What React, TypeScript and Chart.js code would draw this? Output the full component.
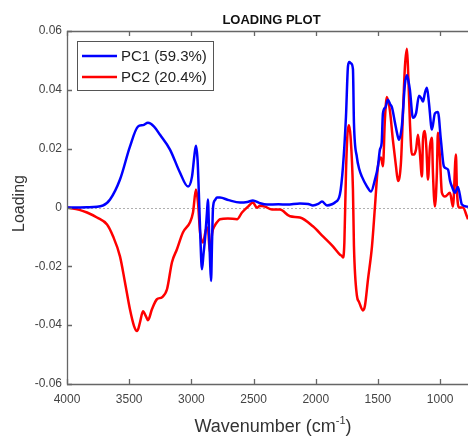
import React, { useEffect, useRef } from 'react';
import { Chart, registerables } from 'chart.js';

Chart.register(...registerables);

const titleText = 'LOADING PLOT';
const xTitle = 'Wavenumber (cm';
const xTitleSup = '-1';
const yTitle = 'Loading';
const seriesNames = ['PC1 (59.3%)', 'PC2 (20.4%)'];
const xTickValues = [4000, 3500, 3000, 2500, 2000, 1500, 1000];
const yTickValues = [-0.06, -0.04, -0.02, 0, 0.02, 0.04, 0.06];

const pc1Wn = [4000, 3840, 3711, 3654, 3574, 3494, 3430, 3389, 3349, 3300, 3252, 3172, 3092, 3027, 2995, 2975, 2963, 2950, 2940, 2928, 2915, 2903, 2891, 2875, 2867, 2858, 2850, 2842, 2834, 2826, 2810, 2794, 2770, 2700, 2609, 2550, 2505, 2450, 2392, 2300, 2231, 2127, 2060, 2023, 1980, 1950, 1910, 1870, 1846, 1806, 1781, 1757, 1741, 1730, 1717, 1701, 1693, 1669, 1650, 1629, 1588, 1556, 1524, 1500, 1484, 1470, 1460, 1440, 1420, 1400, 1387, 1363, 1345, 1331, 1307, 1283, 1267, 1255, 1243, 1219, 1194, 1170, 1150, 1138, 1122, 1106, 1090, 1066, 1042, 1018, 994, 970, 937, 920, 905, 881, 857, 825, 785, 776];
const pc1Val = [0, 0.0001, 0.0007, 0.0027, 0.0095, 0.0207, 0.0275, 0.028, 0.0288, 0.0275, 0.0247, 0.0197, 0.0119, 0.0071, 0.0105, 0.018, 0.021, 0.016, 0.005, -0.01, -0.021, -0.016, -0.011, -0.002, 0.0027, -0.008, -0.018, -0.025, -0.012, 0, 0.0025, 0.0034, 0.0034, 0.0025, 0.0017, 0.0019, 0.0024, 0.0015, 0.001, 0.0011, 0.001, 0.0014, 0.0012, 0.0007, 0.0012, 0.002, 0.0007, 0.0011, 0.0017, 0.0044, 0.014, 0.031, 0.048, 0.0495, 0.049, 0.047, 0.0288, 0.017, 0.013, 0.0105, 0.0071, 0.0054, 0.0095, 0.014, 0.0197, 0.022, 0.032, 0.034, 0.0366, 0.035, 0.034, 0.0288, 0.025, 0.023, 0.028, 0.042, 0.045, 0.043, 0.04, 0.0305, 0.032, 0.038, 0.037, 0.036, 0.039, 0.0407, 0.0356, 0.0265, 0.032, 0.0325, 0.023, 0.014, 0.0129, 0.009, 0.0071, 0.005, 0.007, 0.001, 0.0003, 0.0002];

const pc2Wn = [4000, 3900, 3839, 3759, 3678, 3630, 3574, 3534, 3494, 3461, 3437, 3425, 3413, 3389, 3365, 3349, 3317, 3277, 3236, 3196, 3156, 3116, 3068, 3011, 2987, 2963, 2947, 2930, 2907, 2883, 2867, 2858, 2850, 2842, 2834, 2810, 2794, 2770, 2706, 2633, 2593, 2545, 2505, 2473, 2449, 2408, 2352, 2288, 2207, 2127, 2023, 1942, 1862, 1806, 1790, 1781, 1770, 1757, 1745, 1733, 1720, 1701, 1693, 1669, 1653, 1621, 1605, 1580, 1548, 1524, 1500, 1476, 1460, 1444, 1428, 1404, 1380, 1355, 1339, 1315, 1299, 1283, 1267, 1259, 1243, 1227, 1210, 1194, 1178, 1165, 1146, 1138, 1122, 1110, 1098, 1082, 1066, 1058, 1042, 1026, 1018, 1002, 986, 961, 921, 897, 873, 865, 849, 817, 785, 776];
const pc2Val = [0, -0.0008, -0.0017, -0.0034, -0.0058, -0.0098, -0.0166, -0.0254, -0.0346, -0.0403, -0.042, -0.041, -0.039, -0.0353, -0.037, -0.0383, -0.0346, -0.0312, -0.0305, -0.0278, -0.0186, -0.0142, -0.0085, -0.005, -0.0017, 0.0061, 0.0017, -0.0085, -0.0119, -0.0075, -0.0068, -0.012, -0.0153, -0.013, -0.009, -0.006, -0.005, -0.004, -0.0037, -0.004, -0.0017, 0.0003, 0.0017, -0.0001, 0.0006, 0.0003, -0.0007, -0.0007, -0.003, -0.0034, -0.0064, -0.0098, -0.0132, -0.016, -0.0165, -0.017, -0.012, 0.0119, 0.025, 0.028, 0.024, 0.006, -0.013, -0.03, -0.032, -0.035, -0.0335, -0.0244, -0.0132, 0.0003, 0.014, 0.017, 0.014, 0.03, 0.0376, 0.033, 0.023, 0.014, 0.009, 0.0153, 0.032, 0.048, 0.054, 0.048, 0.029, 0.018, 0.018, 0.0197, 0.0247, 0.0197, 0.0105, 0.023, 0.026, 0.0197, 0.0095, 0.0207, 0.0237, 0.0119, 0.0003, 0.012, 0.0254, 0.0173, 0.005, 0.0037, 0.005, 0.0003, 0.018, 0.006, 0, 0, -0.003, -0.004];

const seriesColors = ['#0000ff', '#ff0000'];
const FONT = "'Liberation Sans', Arial, sans-serif";

const decorPlugin = {
  id: 'decor',
  beforeDatasetsDraw(chart: any) {
    const { ctx, chartArea, scales } = chart;
    const y0 = scales.y.getPixelForValue(0);
    ctx.save();
    ctx.strokeStyle = '#b0b0b0';
    ctx.lineWidth = 1;
    ctx.setLineDash([2, 2]);
    ctx.beginPath();
    ctx.moveTo(chartArea.left, Math.round(y0) + 0.5);
    ctx.lineTo(chartArea.right, Math.round(y0) + 0.5);
    ctx.stroke();
    ctx.restore();
  },
  afterDraw(chart: any) {
    const { ctx, chartArea, scales } = chart;
    const { left, right, top, bottom } = chartArea;
    ctx.save();
    ctx.strokeStyle = '#666';
    ctx.lineWidth = 1.3;
    ctx.beginPath();
    ctx.moveTo(right, top + 0.5);
    ctx.lineTo(left + 0.5, top + 0.5);
    ctx.lineTo(left + 0.5, bottom + 0.5);
    ctx.lineTo(right, bottom + 0.5);
    ctx.stroke();
    ctx.beginPath();
    xTickValues.forEach((v) => {
      const px = Math.round(scales.x.getPixelForValue(v)) + 0.5;
      ctx.moveTo(px, bottom);
      ctx.lineTo(px, bottom - 5);
      ctx.moveTo(px, top);
      ctx.lineTo(px, top + 5);
    });
    yTickValues.forEach((v) => {
      const py = Math.round(scales.y.getPixelForValue(v)) + 0.5;
      ctx.moveTo(left, py);
      ctx.lineTo(left + 5, py);
    });
    ctx.stroke();

    ctx.fillStyle = '#111';
    ctx.font = `bold 13px ${FONT}`;
    ctx.textAlign = 'center';
    ctx.textBaseline = 'middle';
    ctx.fillText(titleText, (left + right) / 2 + 4, 20);

    ctx.save();
    ctx.translate(20, (top + bottom) / 2 - 4);
    ctx.rotate(-Math.PI / 2);
    ctx.font = `16px ${FONT}`;
    ctx.fillStyle = '#333';
    ctx.textAlign = 'center';
    ctx.textBaseline = 'middle';
    ctx.fillText(yTitle, 0, 0);
    ctx.restore();

    ctx.font = `18px ${FONT}`;
    const w1 = ctx.measureText(xTitle).width;
    ctx.font = `11px ${FONT}`;
    const w2 = ctx.measureText(xTitleSup).width;
    ctx.font = `18px ${FONT}`;
    const w3 = ctx.measureText(')').width;
    const total = w1 + w2 + w3;
    let sx = 273 - total / 2;
    const by = 432;
    ctx.fillStyle = '#333';
    ctx.textAlign = 'left';
    ctx.textBaseline = 'alphabetic';
    ctx.fillText(xTitle, sx, by);
    sx += w1;
    ctx.font = `11px ${FONT}`;
    ctx.fillText(xTitleSup, sx, by - 8);
    sx += w2;
    ctx.font = `18px ${FONT}`;
    ctx.fillText(')', sx, by);

    const lx = 77, ly = 41, lw = 136, lh = 49;
    ctx.fillStyle = '#ffffff';
    ctx.fillRect(lx, ly, lw, lh);
    ctx.strokeStyle = '#555';
    ctx.lineWidth = 1;
    ctx.strokeRect(lx + 0.5, ly + 0.5, lw, lh);
    const rows = [56, 77];
    seriesNames.forEach((name, i) => {
      ctx.strokeStyle = seriesColors[i];
      ctx.lineWidth = 2.5;
      ctx.beginPath();
      ctx.moveTo(82, rows[i]);
      ctx.lineTo(117, rows[i]);
      ctx.stroke();
      ctx.fillStyle = '#222';
      ctx.font = `15px ${FONT}`;
      ctx.textAlign = 'left';
      ctx.textBaseline = 'middle';
      ctx.fillText(name, 121, rows[i] + 1);
    });
    ctx.restore();
  },
};

export default function App() {
  const ref = useRef<HTMLCanvasElement>(null);
  useEffect(() => {
    if (!ref.current) return;
    const mk = (wn: number[], val: number[]) => wn.map((x, i) => ({ x, y: val[i] }));
    const ds = (i: number, data: any[]) => ({
      label: seriesNames[i],
      data,
      borderColor: seriesColors[i],
      borderWidth: 2.5,
      pointRadius: 0,
      cubicInterpolationMode: 'monotone' as const,
      fill: false,
    });
    const chart = new Chart(ref.current, {
      type: 'line',
      data: {
        datasets: [ds(0, mk(pc1Wn, pc1Val)), ds(1, mk(pc2Wn, pc2Val))],
      },
      options: {
        animation: false,
        responsive: false,
        devicePixelRatio: 1,
        layout: { padding: { top: 31, right: 0, left: 0, bottom: 0 } },
        plugins: { legend: { display: false }, title: { display: false }, tooltip: { enabled: false } },
        scales: {
          x: {
            type: 'linear',
            reverse: true,
            min: 776,
            max: 4000,
            grid: { display: false, drawTicks: false },
            border: { display: false },
            afterBuildTicks: (axis: any) => { axis.ticks = xTickValues.map((v) => ({ value: v })); },
            afterFit: (axis: any) => { axis.height = 54; },
            ticks: { color: '#444', font: { size: 12, family: FONT }, padding: 8, maxRotation: 0, autoSkip: false, callback: (v: any) => String(v) },
          },
          y: {
            type: 'linear',
            min: -0.06,
            max: 0.06,
            grid: { display: false, drawTicks: false },
            border: { display: false },
            afterBuildTicks: (axis: any) => { axis.ticks = yTickValues.map((v) => ({ value: v })); },
            afterFit: (axis: any) => { axis.width = 67; },
            ticks: {
              color: '#444',
              font: { size: 12, family: FONT },
              padding: 5,
              autoSkip: false,
              callback: (v: any) => (Math.abs(v) < 1e-9 ? '0' : Number(v).toFixed(2)),
            },
          },
        },
      },
      plugins: [decorPlugin],
    });
    return () => chart.destroy();
  }, []);
  return (
    <div style={{ position: 'fixed', left: 0, top: 0, width: 468, height: 438, background: '#fff' }}>
      <canvas ref={ref} width={468} height={438} style={{ display: 'block' }} />
    </div>
  );
}
